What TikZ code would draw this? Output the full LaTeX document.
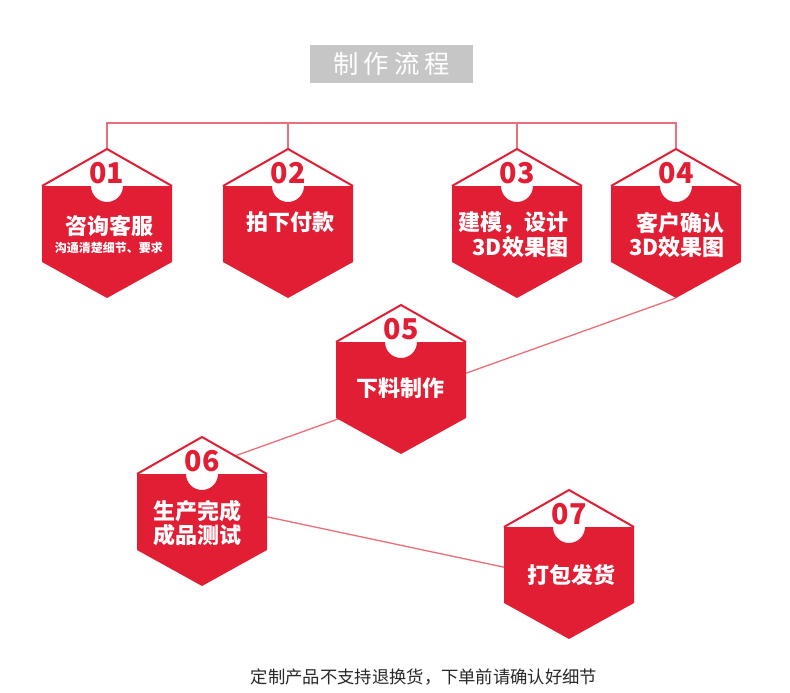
\documentclass[tikz,border=0pt]{standalone}
\usepackage{fontspec}
\setmainfont{Noto Sans CJK SC}
\usetikzlibrary{calc,backgrounds}
\definecolor{stepred}{RGB}{225,30,52}
\definecolor{linkred}{RGB}{236,112,122}
\definecolor{titlegray}{RGB}{198,198,198}
\definecolor{notegray}{RGB}{40,40,40}

\begin{document}
\begin{tikzpicture}[x=0.75pt,y=-0.75pt,
    link/.style={linkred,line width=1pt},
    numtext/.style={text=stepred,font=\fontsize{21.5}{21.5}\selectfont\bfseries,inner sep=0pt},
    steptext/.style={text=white,font=\fontsize{16.5}{18.5}\selectfont\bfseries,align=center,inner sep=0pt},
    pics/stephex/.style={code={
        \coordinate (-top) at (0,0);
        \coordinate (-bot) at (0,149);
        \fill[white] (0,0) -- (65,37) -- (65,113) -- (0,149) -- (-65,113) -- (-65,37) -- cycle;
        \fill[stepred] (-65,37) -- (-16,37) arc[start angle=180,end angle=360,radius=12pt]
            -- (65,37) -- (65,113) -- (0,149) -- (-65,113) -- cycle;
        \draw[stepred,line width=1.5pt] (-65,37) -- (0,0) -- (65,37);
        \node[numtext] (-num) at (0,24.5) {#1};
    }}]
        % Page frame
        \useasboundingbox (0,0) rectangle (790,693);
        % Title
        \node[fill=titlegray,minimum width=122pt,minimum height=28.5pt,text=white,
            font=\fontsize{19}{19}\selectfont] (title) at (391.5,64) {\addfontfeature{LetterSpace=20}制作流程};
        % Steps
        \pic (s1) at (107,149) {stephex=01};
        \pic (s2) at (288,149) {stephex=02};
        \pic (s3) at (517,149) {stephex=03};
        \pic (s4) at (676,149) {stephex=04};
        \pic (s5) at (401,305) {stephex=05};
        \pic (s6) at (202,437) {stephex=06};
        \pic (s7) at (569,490) {stephex=07};
        % Step labels
        \node[steptext] (t1) at (109,226) {咨询客服};
        \node[text=white,font=\fontsize{9}{9}\selectfont\bfseries,inner sep=0pt] (t1b) at (109,248) {沟通清楚细节、要求};
        \node[steptext] (t2) at (290,222) {拍下付款};
        \node[steptext,align=right] (t3) at (513,235) {建模，设计\\3D效果图};
        \node[steptext,align=right] (t4) at (677,235) {客户确认\\3D效果图};
        \node[steptext] (t5) at (400,388) {下料制作};
        \node[steptext] (t6) at (197,523) {生产完成\\成品测试};
        \node[steptext] (t7) at (571,575) {打包发货};
        % Connectors
        \begin{scope}[on background layer]
            \coordinate (bar) at (0,123);
            \draw[link] (s1-top) -- (s1-top |- bar) -- (s4-top |- bar) -- (s4-top);
            \draw[link] (s2-top) -- (s2-top |- bar);
            \draw[link] (s3-top) -- (s3-top |- bar);
            \draw[link] (s4-bot) -- ($(s6-top)+(30,20)$);
            \draw[link] ($(s6-top)+(0,66)$) -- ($(s7-top)+(0,91)$);
        \end{scope}
        % Note
        \node[text=notegray,font=\fontsize{13}{13}\selectfont] (note) at (424,677) {定制产品不支持退换货，下单前请确认好细节};
\end{tikzpicture}
\end{document}
